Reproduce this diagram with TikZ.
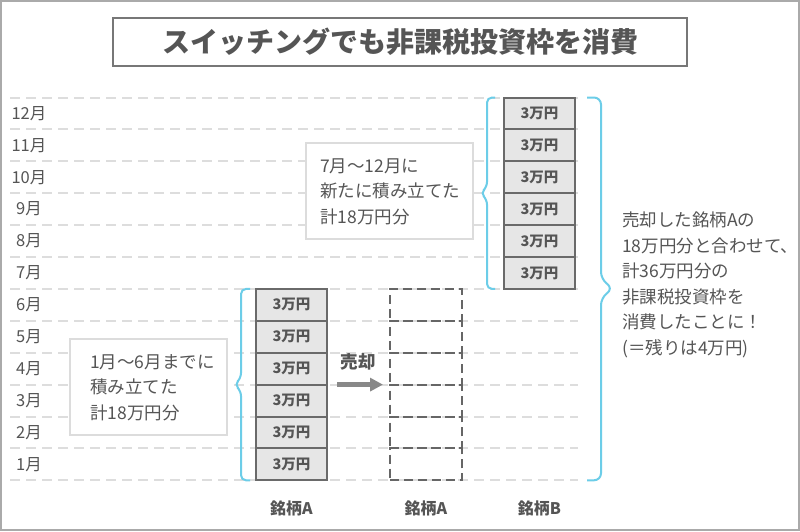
\documentclass[tikz,border=0pt]{standalone}
\usepackage{fontspec}
\setmainfont{Noto Sans CJK JP}
\usetikzlibrary{arrows.meta}
\definecolor{txt}{HTML}{555555}
\definecolor{framec}{HTML}{AAAAAA}
\definecolor{titleborder}{HTML}{777777}
\definecolor{gridc}{HTML}{DDDDDD}
\definecolor{cellfill}{HTML}{E6E6E6}
\definecolor{cellborder}{HTML}{6A6A6A}
\definecolor{dashc}{HTML}{666666}
\definecolor{boxborder}{HTML}{DCDCDC}
\definecolor{bracec}{HTML}{6CCDE8}
\definecolor{arrowc}{HTML}{888888}
\begin{document}
\begin{tikzpicture}[x=1pt,y=-1pt,
  framebox/.style={draw=framec, line width=2pt},
  titlebox/.style={draw=titleborder, fill=white, line width=1.2pt, minimum width=574pt, minimum height=48pt, inner sep=0pt, font=\fontsize{28}{28}\selectfont\bfseries, text=txt},
  gridline/.style={draw=gridc, line width=2pt, dash pattern=on 10pt off 6pt},
  month/.style={font=\fontsize{16.5}{16.5}\selectfont, text=txt, inner sep=0pt},
  cellA/.style={draw=cellborder, fill=cellfill, line width=2pt, minimum width=71pt, minimum height=31.9pt, inner sep=0pt, font=\fontsize{14.5}{14.5}\selectfont\bfseries, text=txt},
  dashcell/.style={draw=dashc, dash pattern=on 9pt off 5pt, line width=2pt, minimum width=72pt, minimum height=31.9pt, inner sep=0pt},
  infobox/.style={draw=boxborder, fill=white, line width=1.5pt, inner sep=0pt},
  infotext/.style={align=left, font=\fontsize{17.5}{25.5}\selectfont, text=txt, inner sep=0pt, anchor=west},
  bracepath/.style={draw=bracec, line width=2pt, rounded corners=5pt},
  colname/.style={font=\fontsize{16}{16}\selectfont\bfseries, text=txt, inner sep=0pt},
  sellarrow/.style={draw=arrowc, line width=4.5pt, -{Triangle[length=13pt,width=13pt]}},
  selllabel/.style={font=\fontsize{17.5}{17.5}\selectfont\bfseries, text=txt, inner sep=0pt}
]
\useasboundingbox (0,0) rectangle (800,531);
\fill[white] (0,0) rectangle (800,531);
\draw[framebox] (1,1) rectangle (799,530);

% title
\node[titlebox] (title) at (400,42) {スイッチングでも非課税投資枠を消費};

% grid lines
\foreach \k in {0,...,12}{
  \pgfmathsetmacro{\yy}{97.5+31.9*\k}
  \draw[gridline] (10,\yy) -- (578,\yy);
}

% month labels
\node[month] (m12) at (29,113.45) {12月};
\node[month] (m11) at (29,145.35) {11月};
\node[month] (m10) at (29,177.25) {10月};
\node[month] (m9) at (29,209.15) {9月};
\node[month] (m8) at (29,241.05) {8月};
\node[month] (m7) at (29,272.95) {7月};
\node[month] (m6) at (29,304.85) {6月};
\node[month] (m5) at (29,336.75) {5月};
\node[month] (m4) at (29,368.65) {4月};
\node[month] (m3) at (29,400.55) {3月};
\node[month] (m2) at (29,432.45) {2月};
\node[month] (m1) at (29,464.35) {1月};

% column A (held)
\node[cellA] (a6) at (291.5,304.85) {3万円};
\node[cellA] (a5) at (291.5,336.75) {3万円};
\node[cellA] (a4) at (291.5,368.65) {3万円};
\node[cellA] (a3) at (291.5,400.55) {3万円};
\node[cellA] (a2) at (291.5,432.45) {3万円};
\node[cellA] (a1) at (291.5,464.35) {3万円};

% column A (sold, dashed)
\node[dashcell] (d6) at (426,304.85) {};
\node[dashcell] (d5) at (426,336.75) {};
\node[dashcell] (d4) at (426,368.65) {};
\node[dashcell] (d3) at (426,400.55) {};
\node[dashcell] (d2) at (426,432.45) {};
\node[dashcell] (d1) at (426,464.35) {};

% column B
\node[cellA] (b12) at (539.5,113.45) {3万円};
\node[cellA] (b11) at (539.5,145.35) {3万円};
\node[cellA] (b10) at (539.5,177.25) {3万円};
\node[cellA] (b9) at (539.5,209.15) {3万円};
\node[cellA] (b8) at (539.5,241.05) {3万円};
\node[cellA] (b7) at (539.5,272.95) {3万円};

% sell arrow
\coordinate (arrS) at (337,384.6);
\coordinate (arrE) at (383,384.6);
\draw[sellarrow] (arrS) -- (arrE);
\node[selllabel] (sell) at (358,362) {売却};

% info boxes
\node[infobox, minimum width=157pt, minimum height=96pt] (box1) at (148.5,387) {};
\node[infotext] (t1) at (90,387.5) {1月〜6月までに\\積み立てた\\計18万円分};
\node[infobox, minimum width=167pt, minimum height=96pt] (box2) at (389.5,191) {};
\node[infotext] (t2) at (320,191.5) {7月〜12月に\\新たに積み立てた\\計18万円分};

% braces
\draw[bracepath] (250,288.9) -| (241,378) -- (234.5,384.6) -- (241,391) |- (250,480.3);
\draw[bracepath] (495,97.5) -| (487,187) -- (480.5,193.2) -- (487,199.5) |- (495,288.9);
\draw[bracepath, rounded corners=7pt] (587,97.5) -| (601,279) -- (613,288.5) -- (601,298) |- (587,480.3);

% right explanation
\node[infotext] (t3) at (622,285) {売却した銘柄Aの\\18万円分と合わせて、\\計36万円分の\\非課税投資枠を\\消費したことに！\\(＝残りは4万円)};

% column names
\node[colname] (la) at (291.5,508) {銘柄A};
\node[colname] (ls) at (426,508) {銘柄A};
\node[colname] (lb) at (539.5,508) {銘柄B};
\end{tikzpicture}
\end{document}
